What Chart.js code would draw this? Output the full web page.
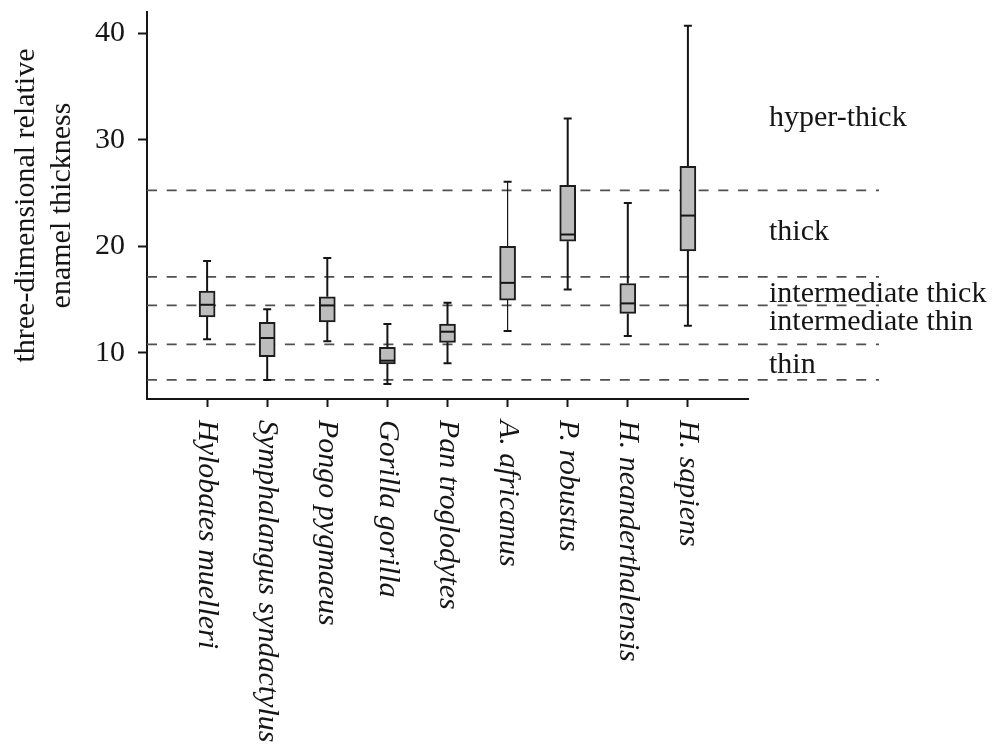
<!DOCTYPE html>
<html>
<head>
<meta charset="utf-8">
<script src="https://cdn.jsdelivr.net/npm/chart.js@4/dist/chart.umd.min.js"></script>
<style>
  body { margin: 0; background: #fff; }
</style>
</head>
<body>
<canvas id="enamelChart" width="992" height="744"></canvas>
<script>
// species on the x axis
const species = ['Hylobates muelleri', 'Symphalangus syndactylus', 'Pongo pygmaeus', 'Gorilla gorilla',
  'Pan troglodytes', 'A. africanus', 'P. robustus', 'H. neanderthalensis', 'H. sapiens'];
// box plot statistics per species
const whiskerLow = [11.26, 7.44, 11.07, 7.07, 9.0, 12.03, 15.94, 11.57, 12.53];
const lowerQuartile = [13.37, 9.63, 12.9, 8.94, 10.97, 14.94, 20.47, 13.69, 19.56];
const medians = [14.5, 11.38, 14.44, 9.25, 11.97, 16.56, 21.1, 14.63, 22.88];
const upperQuartile = [15.78, 12.85, 15.25, 10.5, 12.69, 20.0, 25.72, 16.5, 27.5];
const whiskerHigh = [18.62, 14.07, 18.9, 12.69, 14.69, 26.06, 32.0, 24.06, 40.71];
// thickness category boundaries and their names
const zoneBreaks = [25.25, 17.12, 14.44, 10.79, 7.44];
const zoneNames = ['hyper-thick', 'thick', 'intermediate thick', 'intermediate thin', 'thin'];
const zoneNameBaselines = [31.3, 20.55, 14.8, 12.1, 8.1];
const yTicks = [10, 20, 30, 40];

const serif = "'Liberation Serif', 'Times New Roman', serif";
const ink = '#151515';

// empty slots at both ends give the axis its side margins
const xLabels = [''].concat(species, ['']);
const boxData = [null].concat(species.map((s, i) => [lowerQuartile[i], upperQuartile[i]]), [null]);

const zonesPlugin = {
  id: 'zones',
  beforeDatasetsDraw(chart) {
    const {ctx, chartArea, scales: {y}} = chart;
    ctx.save();
    ctx.strokeStyle = '#505050';
    ctx.lineWidth = 1.8;
    ctx.setLineDash([10, 9.7]);
    zoneBreaks.forEach((v) => {
      const py = y.getPixelForValue(v);
      ctx.beginPath();
      ctx.moveTo(chartArea.left, py);
      ctx.lineTo(chartArea.right + 131, py);
      ctx.stroke();
    });
    ctx.restore();
  },
  afterDraw(chart) {
    const {ctx, chartArea, scales: {y}} = chart;
    ctx.save();
    ctx.fillStyle = ink;
    ctx.font = '30px ' + serif;
    ctx.textAlign = 'left';
    ctx.textBaseline = 'alphabetic';
    zoneNames.forEach((name, i) => {
      ctx.fillText(name, chartArea.right + 21, y.getPixelForValue(zoneNameBaselines[i]));
    });
    ctx.restore();
  }
};

const whiskerPlugin = {
  id: 'whiskers',
  beforeDatasetsDraw(chart) {
    const {ctx, scales: {x, y}} = chart;
    ctx.save();
    ctx.strokeStyle = ink;
    species.forEach((s, i) => {
      const px = x.getPixelForValue(i + 1);
      const w = s === 'A. africanus' ? 1.2 : 2;
      ctx.lineWidth = w;
      ctx.beginPath();
      ctx.moveTo(px, y.getPixelForValue(whiskerLow[i]));
      ctx.lineTo(px, y.getPixelForValue(lowerQuartile[i]));
      ctx.moveTo(px, y.getPixelForValue(upperQuartile[i]));
      ctx.lineTo(px, y.getPixelForValue(whiskerHigh[i]));
      ctx.stroke();
      // caps
      ctx.lineWidth = 2;
      ctx.beginPath();
      [whiskerLow[i], whiskerHigh[i]].forEach((v) => {
        const py = y.getPixelForValue(v);
        ctx.moveTo(px - 4, py);
        ctx.lineTo(px + 4, py);
      });
      ctx.stroke();
    });
    ctx.restore();
  },
  afterDatasetsDraw(chart) {
    const {ctx, scales: {x, y}} = chart;
    ctx.save();
    ctx.strokeStyle = ink;
    ctx.lineWidth = 2;
    medians.forEach((m, i) => {
      const px = x.getPixelForValue(i + 1);
      const py = y.getPixelForValue(m);
      ctx.beginPath();
      ctx.moveTo(px - 7, py);
      ctx.lineTo(px + 7, py);
      ctx.stroke();
    });
    ctx.restore();
  }
};

// species names run downward from each tick
const speciesLabelPlugin = {
  id: 'speciesLabels',
  afterDraw(chart) {
    const {ctx, chartArea, scales: {x}} = chart;
    ctx.save();
    ctx.fillStyle = ink;
    ctx.font = 'italic 30px ' + serif;
    ctx.textAlign = 'left';
    ctx.textBaseline = 'middle';
    species.forEach((s, i) => {
      ctx.save();
      ctx.translate(x.getPixelForValue(i + 1), chartArea.bottom + 21);
      ctx.rotate(Math.PI / 2);
      ctx.fillText(s, 0, 0);
      ctx.restore();
    });
    ctx.restore();
  }
};

const chart = new Chart(document.getElementById('enamelChart'), {
  type: 'bar',
  data: {
    labels: xLabels,
    datasets: [{
      data: boxData,
      backgroundColor: '#bdbdbd',
      borderColor: '#1c1c1c',
      borderWidth: 2,
      borderSkipped: false,
      barThickness: 16
    }]
  },
  options: {
    responsive: false,
    animation: false,
    events: [],
    layout: { padding: { top: 12, right: 244, left: 0, bottom: 0 } },
    plugins: { legend: { display: false }, tooltip: { enabled: false } },
    scales: {
      x: {
        type: 'category',
        offset: false,
        border: { color: ink, width: 2 },
        grid: {
          offset: false,
          drawOnChartArea: false,
          tickLength: 8,
          tickWidth: 2,
          tickColor: (ctx) => (ctx.index === 0 || ctx.index === xLabels.length - 1) ? 'rgba(0,0,0,0)' : ink
        },
        ticks: { display: false },
        afterFit: (scale) => {
          scale.height = 345;
          scale.paddingLeft = 0;
          scale.paddingRight = 0;
        }
      },
      y: {
        min: 5.65,
        max: 42,
        border: { color: ink, width: 2 },
        grid: { drawOnChartArea: false, tickLength: 9, tickWidth: 2, tickColor: ink },
        afterBuildTicks: (scale) => { scale.ticks = yTicks.map((v) => ({ value: v })); },
        ticks: { color: ink, padding: 13, font: { family: serif, size: 30 } },
        title: {
          display: true,
          text: ['three-dimensional relative', 'enamel thickness'],
          color: ink,
          font: { family: serif, size: 30 },
          padding: { top: 8, bottom: 0 }
        },
        afterFit: (scale) => {
          scale.width = 147;
          scale.paddingTop = 0;
          scale.paddingBottom = 0;
        }
      }
    }
  },
  plugins: [zonesPlugin, whiskerPlugin, speciesLabelPlugin]
});
</script>
</body>
</html>
